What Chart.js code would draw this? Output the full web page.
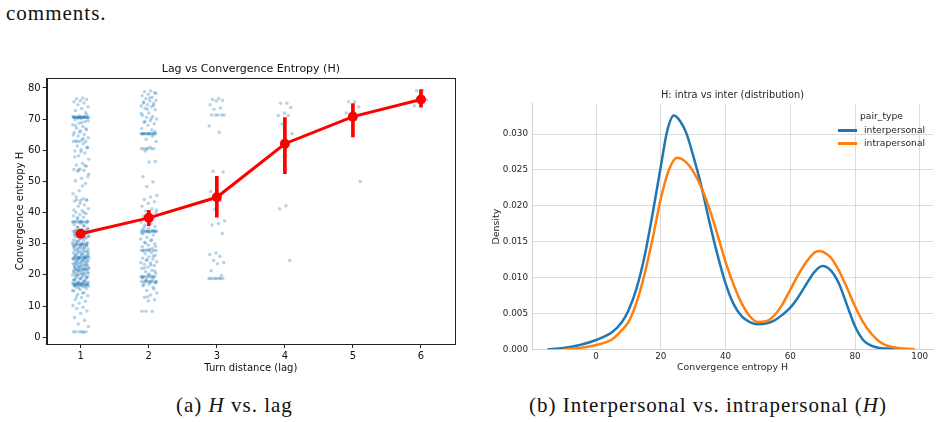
<!DOCTYPE html>
<html>
<head>
<meta charset="utf-8">
<script src="https://cdn.jsdelivr.net/npm/chart.js@4.4.1/dist/chart.umd.min.js"></script>
<style>
  html, body { margin:0; padding:0; background:#ffffff; }
  body { width:940px; height:422px; position:relative; overflow:hidden; }
  .cv { position:absolute; }
  .serif { position:absolute; font-family:"Liberation Serif", "DejaVu Serif", serif; font-size:21px; letter-spacing:1px; color:#111; white-space:nowrap; line-height:24px; }
  .legend { position:absolute; font-family:"DejaVu Sans", sans-serif; font-size:9.2px; color:#262626; white-space:nowrap; }
  .lg-line { position:absolute; height:2.5px; width:19px; }
</style>
</head>
<body>
<div class="serif" style="left:6px; top:1px;">comments.</div>

<canvas id="c1" class="cv" width="470" height="330" style="left:0px; top:55px;"></canvas>
<canvas id="c2" class="cv" width="470" height="305" style="left:470px; top:80px;"></canvas>

<div class="legend" style="left:860px; top:110px;">pair_type</div>
<div class="lg-line" style="left:838px; top:129px; background:#1f77b4;"></div>
<div class="legend" style="left:864px; top:124px;">interpersonal</div>
<div class="lg-line" style="left:838px; top:142px; background:#ff7f0e;"></div>
<div class="legend" style="left:864px; top:137px;">intrapersonal</div>

<div class="serif" style="left:176px; top:393px;">(a) <i>H</i> vs. lag</div>
<div class="serif" style="left:529px; top:393px;">(b) Interpersonal vs. intrapersonal (<i>H</i>)</div>

<script>
// ---------------- DATA: left panel (H vs lag) ----------------
const lags = [1, 2, 3, 4, 5, 6];
const yTicksLeft = [0, 10, 20, 30, 40, 50, 60, 70, 80];

const hLag1 = [76.8,76.5,76.3,75.9,75.6,75.2,74.6,74.0,73.4,72.8,72.1,
71.0,70.8,70.7,70.6,70.6,70.6,70.6,70.6,70.6,70.6,70.6,70.6,70.6,70.6,70.6,70.6,70.5,70.4,70.2,69.8,
69.2,68.7,68.2,67.6,67.1,66.6,66.2,65.7,65.1,64.6,64.0,63.4,63.0,62.8,62.8,62.8,62.2,61.4,60.8,60.2,59.8,59.1,58.2,57.1,55.8,55.3,54.9,54.0,53.8,53.6,53.3,51.5,51.0,50.2,49.3,47.0,46.0,44.4,44.1,44.0,43.9,43.7,42.4,42.0,41.2,40.6,40.1,39.7,39.3,38.9,38.5,38.0,
37.3,37.2,37.1,37.0,37.0,37.0,37.0,37.0,36.9,36.6,36.1,35.6,35.2,34.9,34.6,34.4,34.2,34.0,33.9,33.7,33.5,33.4,33.2,33.0,32.9,32.7,32.5,32.3,32.1,31.8,31.5,31.2,30.9,30.6,30.3,30.0,29.9,29.8,29.8,29.7,29.7,29.6,29.5,29.3,29.0,28.8,28.6,28.4,28.1,27.9,27.6,27.4,27.1,26.8,26.6,26.3,26.1,25.9,25.7,25.6,25.5,25.5,25.4,25.3,25.2,25.0,24.9,24.8,24.6,24.4,24.2,24.0,23.8,23.6,23.4,23.2,23.0,22.8,22.6,22.4,22.2,22.0,21.9,21.8,21.8,21.7,21.5,21.3,21.1,20.9,20.7,20.5,20.3,20.1,19.9,19.6,19.3,19.0,18.7,18.4,18.1,17.8,17.6,17.4,17.3,17.2,17.2,17.1,17.0,16.9,16.8,16.8,16.7,16.7,16.6,16.4,16.2,15.9,15.6,15.2,14.8,14.3,13.8,13.3,12.7,12.1,11.5,10.9,10.2,9.6,9.2,8.4,7.6,6.3,5.4,4.2,3.4,1.7,1.7,1.7,1.7,1.7,1.6,
34.1,33.8,33.1,32.6,31.9,31.0,30.4,29.8,29.8,29.4,28.9,28.3,27.7,27.3,26.9,26.4,25.8,25.5,25.5,25.3,25.1,24.7,24.3,23.9,23.5,23.1,22.7,22.3,21.9,21.8,21.6,21.2,20.8,20.4,20.0,19.5,19.1,18.6,18.2,17.5,17.3,17.2,17.0,16.8,16.7,16.5,25.6,25.4,26.0,29.9,33.3,33.6,37.1,37.0,
35.9,35.4,34.8,34.3,33.9,33.4,32.8,32.4,31.6,30.8,30.1,29.7,29.2,28.7,28.2,27.5,27.0,26.5,25.9,25.5,25.2,24.5,23.7,23.3,22.9,22.5,21.8,21.4,20.6,20.2,19.7,19.2,18.8,18.3,17.9,17.3,17.1,16.9,16.7,16.3,15.8,15.0,14.1,13.0,
71.5,70.6,70.6,70.6,70.3,69.5,68.9,67.9,66.9,65.9,64.9,63.7,62.8,61.0,59.5,57.8,55.1,53.7,52.3,48.5,45.1,44.0,43.0,40.8,39.9,38.3,37.0,37.0];

const hLag2 = [79.0,78.8,78.5,78.0,77.5,77.0,76.5,76.0,75.8,75.5,75.0,74.6,74.2,74.0,73.5,73.0,72.0,71.2,70.8,70.5,70.0,69.5,69.0,68.5,68.0,67.0,66.5,
65.3,65.3,65.3,65.3,65.3,65.3,65.3,65.3,65.3,65.3,65.3,65.3,64.5,63.5,62.8,61.0,60.5,60.5,60.5,60.5,60.5,59.8,56.4,56.2,51.5,49.8,48.4,45.5,45.0,44.2,43.5,43.0,42.0,41.2,40.5,40.0,39.6,38.8,38.2,37.5,37.0,36.5,36.0,35.5,35.0,34.5,34.2,
34.0,34.0,34.0,34.0,34.0,34.0,34.0,34.0,34.0,34.0,33.6,33.2,32.8,32.0,31.5,31.0,30.5,30.0,29.5,29.0,28.5,28.0,27.8,27.8,27.8,27.8,27.8,27.8,27.2,26.8,26.3,25.8,25.3,25.0,24.6,24.2,23.8,23.4,23.0,22.5,22.0,21.5,21.0,20.5,20.0,
19.4,19.4,19.4,19.4,19.4,19.4,19.4,19.4,19.0,18.6,18.2,17.8,17.8,17.8,17.8,17.8,17.8,17.8,17.8,17.4,17.0,16.5,16.0,15.0,14.2,13.5,12.8,12.0,11.6,8.3,8.3,8.3,
78.2,76.8,75.2,74.4,73.2,71.8,70.2,69.2,66.0,65.3,65.3,65.3,60.5,40.8,39.2,35.2,34.0,34.0,33.4,31.2,30.2,29.2,28.2,27.8,26.0,24.9,24.0,23.2,22.2,21.2,20.2,19.4,19.4,18.4,17.8,17.8,16.8,15.5,13.0];

const hLag3 = [76.6,76.3,76.0,75.8,74.6,73.6,73.2,71.3,71.3,71.3,71.3,71.3,67.8,65.8,53.3,53.0,47.0,46.8,43.7,41.0,37.4,36.5,36.0,33.3,27.0,26.5,26.0,24.6,24.0,23.6,21.3,19.8,18.8,18.8,18.8,18.8,18.8,18.8,18.8,18.8];
const hLag4 = [75.1,75.1,73.7,72.0,71.2,71.2,68.4,65.3,42.2,41.2,24.6];
const hLag5 = [75.6,75.6,74.0,73.7,72.0,71.2,71.0,50.0];
const hLag6 = [79.2,79.2,76.2,75.3,74.3];

const meanH  = [33.2, 38.3, 44.9, 62.1, 70.8, 76.3];
const ciLowH = [32.0, 35.8, 38.5, 52.5, 64.3, 73.8];
const ciHighH= [34.5, 40.7, 51.6, 70.5, 75.0, 79.5];

// ---------------- DATA: right panel (KDE) ----------------
const xTicksRight = [0, 20, 40, 60, 80, 100];
const yTicksRight = [0, 0.005, 0.010, 0.015, 0.020, 0.025, 0.030];

const interX = [-15,-10,-5,0,5,8,10,12.5,15,17.5,20,22,24,26,28,30,32.5,35,37.5,40,42.5,45,47.5,50,52.5,55,57.5,60,62.5,65,67.5,70,72.5,75,77.5,80,82.5,85,87.5,90,93];
const interY = [0.0000,0.0002,0.0006,0.0013,0.0024,0.0038,0.0054,0.0085,0.0130,0.0190,0.0255,0.0305,0.0326,0.0318,0.0300,0.0270,0.0228,0.0178,0.0132,0.0092,0.0063,0.0046,0.0038,0.0035,0.0036,0.0040,0.0048,0.0058,0.0073,0.0091,0.0108,0.0116,0.0110,0.0092,0.0062,0.0032,0.0013,0.0005,0.0002,0.0001,0.0000];

const intraX = [-10,-5,0,5,8,10,12.5,15,17.5,20,22.5,25,27.5,30,32.5,35,37.5,40,42.5,45,47.5,50,52.5,55,57.5,60,62.5,65,67.5,69,70,72.5,75,77.5,80,82.5,85,87.5,90,95,98.5];
const intraY = [0.0000,0.0002,0.0006,0.0014,0.0027,0.0038,0.0065,0.0105,0.0155,0.0210,0.0250,0.0267,0.0262,0.0248,0.0226,0.0196,0.0160,0.0122,0.0090,0.0064,0.0046,0.0038,0.0039,0.0047,0.0062,0.0083,0.0104,0.0122,0.0135,0.0137,0.0136,0.0128,0.0110,0.0086,0.0060,0.0038,0.0022,0.0011,0.0005,0.0001,0.0000];

// ---------------- build ----------------
const stripValues = [hLag1, hLag2, hLag3, hLag4, hLag5, hLag6];
const jitter = i => ((((i + 1) * 0.6180339887) % 1) - 0.5) * 0.24; // deterministic strip spread
const stripPoints = stripValues.flatMap((vals, k) => vals.map((v, i) => ({x: lags[k] + jitter(i), y: v})));
const meanPoints = lags.map((l, i) => ({x: l, y: meanH[i]}));
const ciBars = lags.map((l, i) => ({x: l, y: [ciLowH[i], ciHighH[i]]}));

const frame = {
  id: 'frame',
  afterDatasetsDraw(chart) {
    const a = chart.chartArea, ctx = chart.ctx;
    ctx.save();
    ctx.strokeStyle = '#222';
    ctx.lineWidth = 1;
    ctx.strokeRect(Math.round(a.left) + 0.5, Math.round(a.top) + 0.5, Math.round(a.right - a.left), Math.round(a.bottom - a.top));
    ctx.restore();
  }
};

const sans = "'DejaVu Sans', sans-serif";

new Chart(document.getElementById('c1'), {
  data: {
    datasets: [
      { type: 'line', data: meanPoints, borderColor: '#ff0000', backgroundColor: '#ff0000', borderWidth: 3,
        pointRadius: 5, pointHoverRadius: 5, pointBorderWidth: 0, order: 0 },
      { type: 'bar', data: ciBars, backgroundColor: '#ff0000', barThickness: 3, order: 1 },
      { type: 'scatter', data: stripPoints, backgroundColor: 'rgba(31,119,180,0.32)', borderWidth: 0,
        pointRadius: 1.75, pointHoverRadius: 1.75, order: 2 }
    ]
  },
  options: {
    responsive: false, animation: false, devicePixelRatio: 1,
    layout: { padding: { left: 0, right: 15, top: 0, bottom: 0 } },
    plugins: {
      legend: { display: false }, tooltip: { enabled: false },
      title: { display: true, text: 'Lag vs Convergence Entropy (H)', fullSize: false, color: '#111',
        font: { family: sans, size: 11, weight: 'normal' }, padding: { top: 7.4, bottom: 2.4 } }
    },
    scales: {
      x: { type: 'linear', min: 0.5, max: 6.5, offset: false,
        afterBuildTicks: s => { s.ticks = lags.map(v => ({value: v})); },
        afterFit: s => { s.height = 41; },
        ticks: { color: '#111', font: { family: sans, size: 10 }, padding: 2, maxRotation: 0 },
        grid: { drawOnChartArea: false, drawTicks: true, tickLength: 4, color: '#222', offset: false },
        border: { display: true, color: '#222' },
        title: { display: true, text: 'Turn distance (lag)', color: '#111', font: { family: sans, size: 10 }, padding: { top: 0, bottom: 11 } }
      },
      y: { type: 'linear', min: -2.2, max: 83.2,
        afterBuildTicks: s => { s.ticks = yTicksLeft.map(v => ({value: v})); },
        afterFit: s => { s.width = 46.7; },
        ticks: { color: '#111', font: { family: sans, size: 10 }, padding: 2 },
        grid: { drawOnChartArea: false, drawTicks: true, tickLength: 4, color: '#222' },
        border: { display: true, color: '#222' },
        title: { display: true, text: 'Convergence entropy H', color: '#111', font: { family: sans, size: 10 }, padding: { top: 14, bottom: 0 } }
      }
    }
  },
  plugins: [frame]
});

new Chart(document.getElementById('c2'), {
  type: 'line',
  data: {
    datasets: [
      { label: 'intrapersonal', data: intraX.map((x, i) => ({x, y: intraY[i]})), borderColor: '#ff7f0e',
        borderWidth: 2.5, pointRadius: 0, cubicInterpolationMode: 'monotone', fill: false, order: 0 },
      { label: 'interpersonal', data: interX.map((x, i) => ({x, y: interY[i]})), borderColor: '#1f77b4',
        borderWidth: 2.5, pointRadius: 0, cubicInterpolationMode: 'monotone', fill: false, order: 1 }
    ]
  },
  options: {
    responsive: false, animation: false, devicePixelRatio: 1,
    layout: { padding: { left: 0, right: 7, top: 0, bottom: 0 } },
    plugins: {
      legend: { display: false }, tooltip: { enabled: false },
      title: { display: true, text: 'H: intra vs inter (distribution)', fullSize: false, color: '#262626',
        font: { family: sans, size: 9.8, weight: 'normal' }, padding: { top: 9.8, bottom: 2.4 } }
    },
    scales: {
      x: { type: 'linear', min: -19.8, max: 104.1,
        afterBuildTicks: s => { s.ticks = xTicksRight.map(v => ({value: v})); },
        afterFit: s => { s.height = 35.7; },
        ticks: { color: '#262626', font: { family: sans, size: 8.8 }, padding: 2.5, maxRotation: 0 },
        grid: { drawTicks: false, color: '#dcdcdc', lineWidth: 1 },
        border: { display: true, color: '#d0d0d0' },
        title: { display: true, text: 'Convergence entropy H', color: '#262626', font: { family: sans, size: 9.4 }, padding: { top: 0, bottom: 11.4 } }
      },
      y: { type: 'linear', min: 0, max: 0.0342,
        afterBuildTicks: s => { s.ticks = yTicksRight.map(v => ({value: v})); },
        afterFit: s => { s.width = 62; },
        ticks: { color: '#262626', font: { family: sans, size: 8.8 }, padding: 4, callback: v => v.toFixed(3) },
        grid: { drawTicks: false, color: '#dcdcdc', lineWidth: 1 },
        border: { display: true, color: '#d0d0d0' },
        title: { display: true, text: 'Density', color: '#262626', font: { family: sans, size: 9.4 }, padding: { top: 21, bottom: 0 } }
      }
    }
  }
});
</script>
</body>
</html>
